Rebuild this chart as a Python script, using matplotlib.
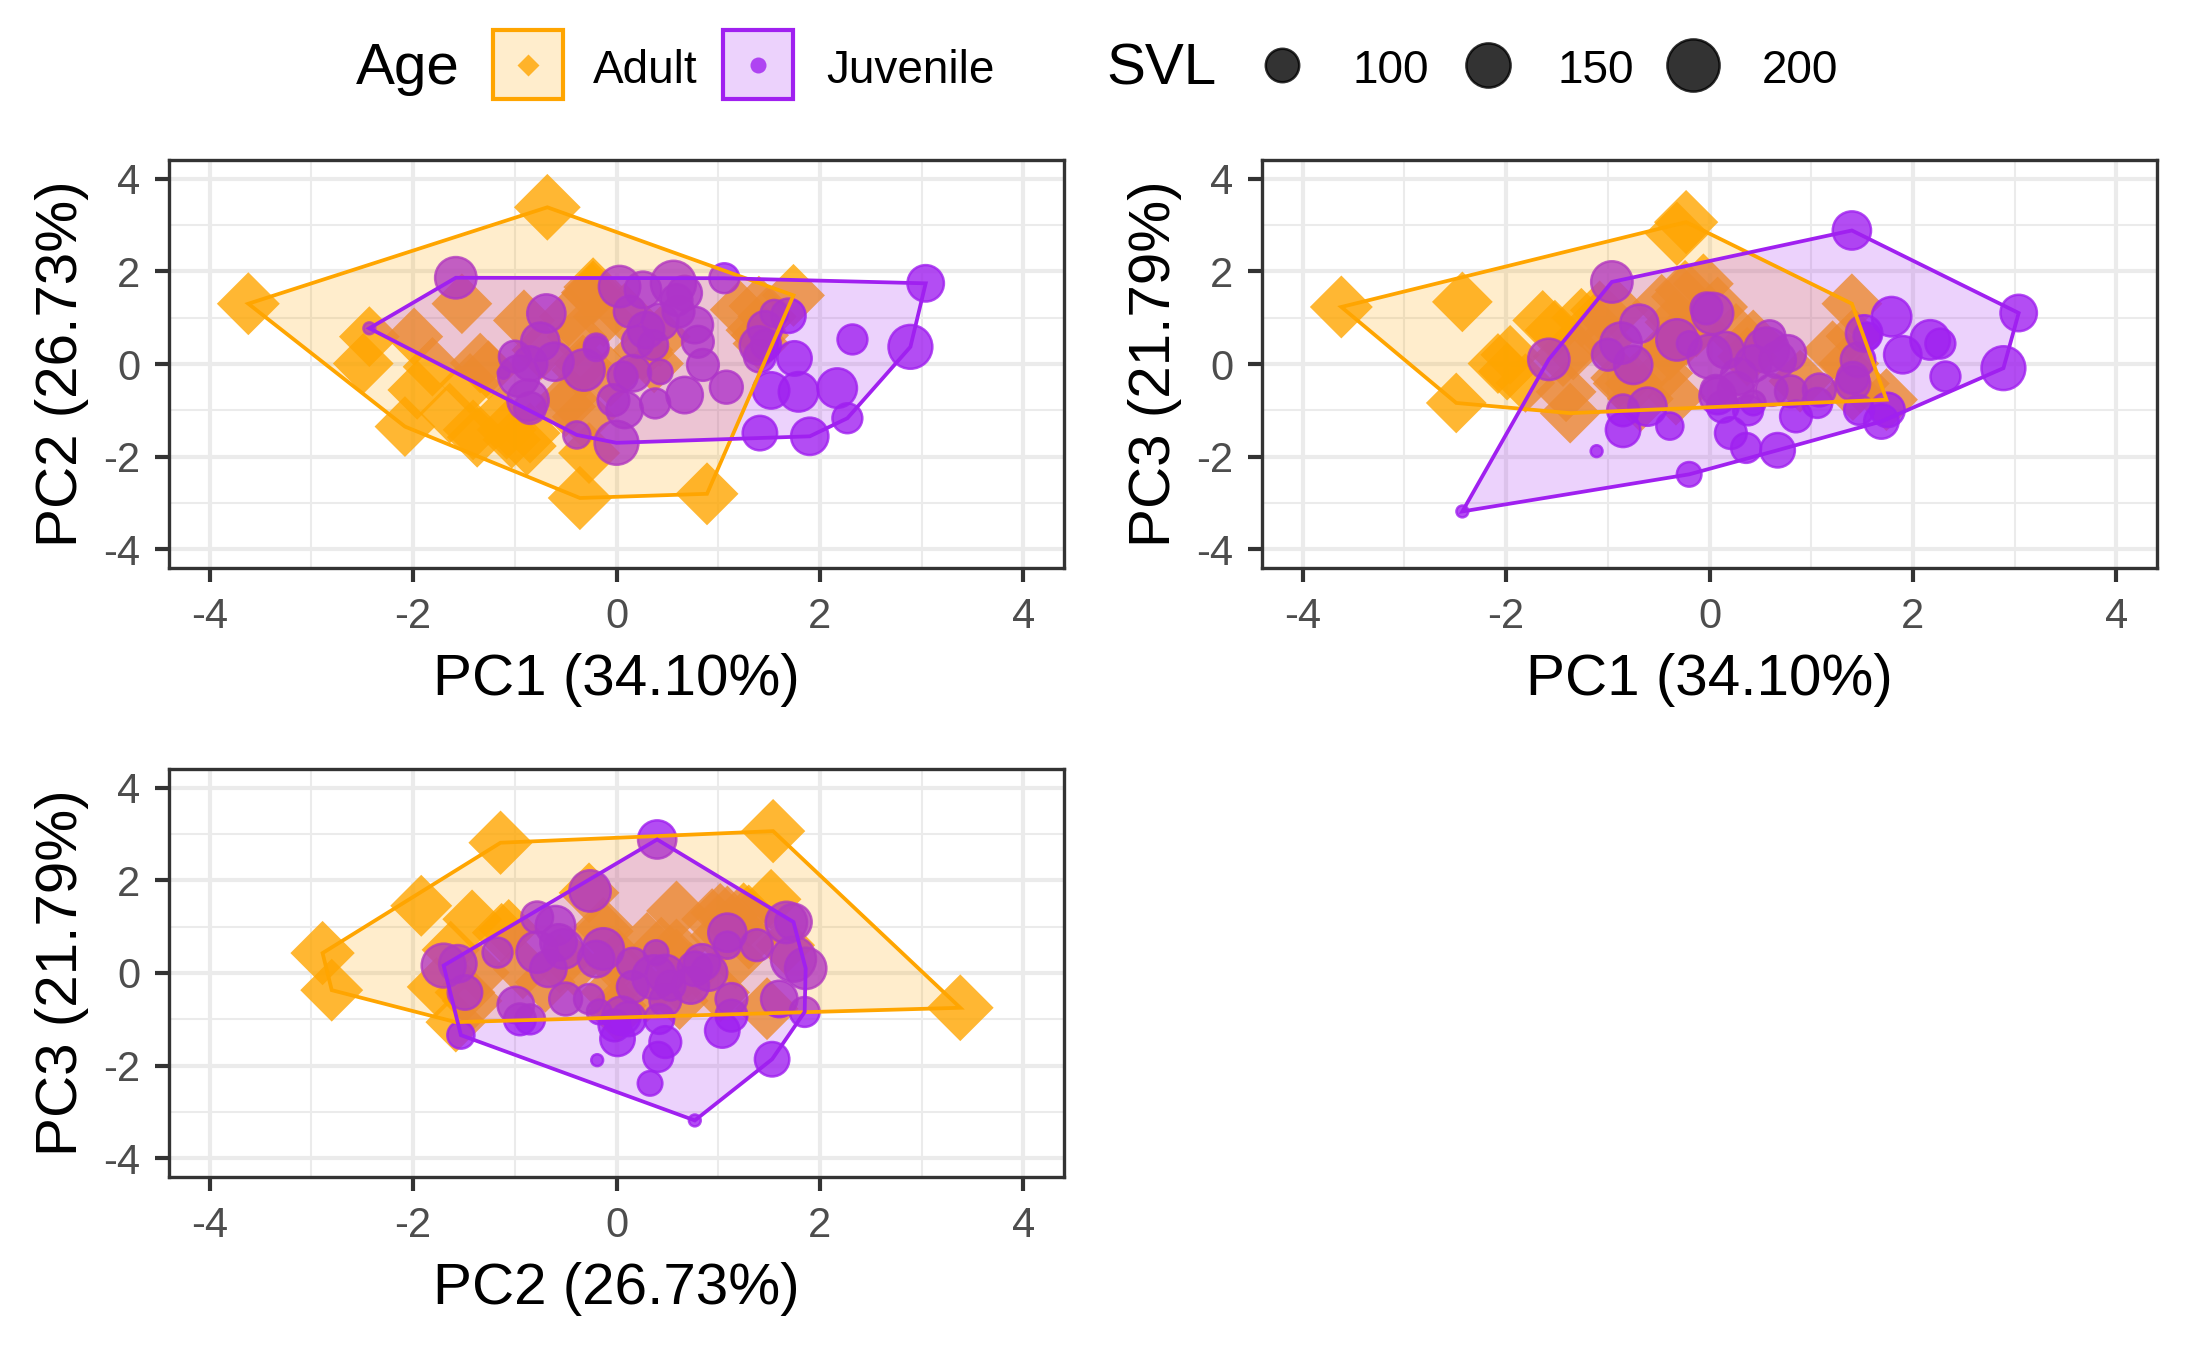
import numpy as np
import matplotlib
matplotlib.use("Agg")
from matplotlib import pyplot as plt
from matplotlib.patches import Rectangle, Polygon

plt.rcParams['font.family'] = ['Liberation Sans', 'DejaVu Sans']
plt.rcParams['axes.unicode_minus'] = False

# ---- data: PCA scores per individual ----
adult_pc1 = [-3.62, -0.68, 1.74, 0.89, -0.36, -2.08, -0.23, -0.32, 1.40, -1.37, -2.49,
             -2.43, -1.99, -1.52, -0.91, -0.24, -0.47, -0.39, -0.33, -0.74, -1.81, -1.44,
             -1.64, -1.41, -1.14, -0.85, -1.03, -1.26, -0.50, -0.27, -0.06, 0.43, 0.37,
             1.37, 1.48, 1.42, 0.08, 0.26, -1.96, -1.34, -1.08, -0.88, -0.34, -0.46,
             -0.13, -0.23, 1.21, 1.41]
adult_pc2 = [1.30, 3.38, 1.48, -2.80, -2.89, -1.35, 1.54, -1.14, 1.25, -1.58, 0.01,
             0.59, 0.59, 1.30, 0.94, 1.52, 1.02, 0.59, 0.01, 0.30, -0.06, -0.42,
             -1.06, -1.42, -1.13, -1.49, -1.63, -0.13, -0.92, -1.92, -0.27, 0.59, 0.01,
             0.73, 1.02, 0.44, 1.09, 0.30, -0.56, 0.02, -1.42, -1.77, -0.13, -0.70,
             1.02, 1.66, 1.17, 0.62]
adult_pc3 = [1.23, -0.75, -0.77, -0.37, 0.43, 0.01, 3.06, 2.81, 1.30, -1.06, -0.84,
             1.34, -0.16, 0.73, 1.16, 1.59, 1.30, 0.30, -0.70, -0.42, -0.41, 0.16,
             0.94, -0.60, 0.87, -0.42, 0.50, 1.00, 0.09, 1.45, 1.73, 0.52, 0.16,
             0.01, -0.42, 0.60, 1.23, 0.66, 0.20, 0.30, 1.16, -0.30, 0.90, -0.20,
             0.80, 0.60, 0.30, -0.60]
adult_svl = [159, 176, 159, 159, 165, 150, 165, 165, 150, 150, 150,
             150, 140, 150, 155, 150, 145, 150, 140, 145, 145, 150,
             150, 150, 145, 150, 140, 145, 150, 155, 150, 150, 145,
             150, 145, 135, 150, 150, 145, 150, 145, 145, 150, 150,
             150, 145, 145, 140]

juv_pc1 = [-2.43, 3.04, 2.89, 1.40, -1.58, 0.67, -0.39, 0.00, -0.20, -0.96, 1.69,
           2.27, 1.90, 2.32, 2.17, 1.79, 1.52, 1.75, 1.41, 1.08, 0.85, 1.46,
           1.55, 1.41, 1.06, -0.69, -0.75, -0.85, -1.11, -0.61, -0.87, -0.20, -0.32,
           0.03, 0.26, 0.56, 0.13, 0.43, 0.61, 0.77, 0.80, 0.21, 0.36, 0.67,
           0.43, 0.16, 0.06, 0.38, 0.08, -0.03, 0.29, 0.59, -0.85, -1.00, 1.47]
juv_pc2 = [0.77, 1.74, 0.37, 0.40, 1.86, 1.53, -1.53, -1.70, 0.33, -0.26, 1.04,
           -1.17, -1.56, 0.53, -0.52, -0.60, -0.57, 0.12, -1.49, -0.50, -0.02, 0.77,
           1.09, 0.16, 1.85, 1.09, 0.48, 0.01, -0.19, 0.05, -0.78, 0.39, -0.13,
           1.67, 1.60, 1.74, 1.13, 0.91, 1.13, 0.84, 0.48, 0.48, 0.41, -0.67,
           -0.17, -0.20, -0.27, -0.85, -0.99, -0.78, 0.73, 1.38, -0.95, 0.16, 0.42]
juv_pc3 = [-3.18, 1.10, -0.09, 2.88, 0.10, -1.86, -1.34, 0.16, -2.38, 1.77, -1.24,
           0.44, 0.20, -0.27, 0.52, 1.02, 0.66, -0.99, -0.42, -0.56, -1.13, 0.09,
           0.60, -0.30, -0.84, 0.87, -0.02, -1.42, -1.88, -0.92, 0.45, 0.44, 0.52,
           1.09, -0.56, 0.30, -0.92, 0.01, -0.56, 0.23, -0.59, -1.49, -1.81, 0.09,
           -0.84, 0.30, -0.56, -1.00, -0.69, 1.20, -0.27, 0.60, -1.00, 0.20, -0.99]
juv_svl = [60, 112, 148, 120, 135, 104, 80, 148, 74, 135, 104,
           88, 116, 88, 126, 126, 112, 104, 104, 98, 94, 104,
           80, 94, 88, 120, 120, 104, 60, 120, 135, 74, 135,
           135, 112, 155, 94, 112, 94, 112, 94, 94, 88, 112,
           74, 112, 88, 88, 112, 94, 112, 94, 94, 94, 88]

pc_labels = ['PC1 (34.10%)', 'PC2 (26.73%)', 'PC3 (21.79%)']
age_labels = ['Adult', 'Juvenile']
svl_breaks = [100, 150, 200]

ADULT = '#FFA500'
JUV = '#A020F0'
DIAMOND = [(0, 1), (1, 0), (0, -1), (-1, 0)]
PX = 72 / 300  # points per pixel


def svl_mm(svl):
    return 1 + 5 * np.sqrt(np.clip((np.asarray(svl, float) - 60) / 170, 0, 1))


def circle_pt(svl):
    # ggplot point diameter (pch 19) in points
    return 0.75 * (svl_mm(svl) * 72.27 / 25.4 + 0.945)


def hull(x, y):
    pts = sorted(set(zip(x, y)))

    def cross(o, a, b):
        return (a[0] - o[0]) * (b[1] - o[1]) - (a[1] - o[1]) * (b[0] - o[0])
    lower, upper = [], []
    for p in pts:
        while len(lower) >= 2 and cross(lower[-2], lower[-1], p) <= 0:
            lower.pop()
        lower.append(p)
    for p in reversed(pts):
        while len(upper) >= 2 and cross(upper[-2], upper[-1], p) <= 0:
            upper.pop()
        upper.append(p)
    return np.array(lower[:-1] + upper[:-1])


W, H = 2187, 1350
fig = plt.figure(figsize=(W / 300, H / 300), dpi=300)

boxes = [(169, 160), (1262, 160), (169, 769)]
pairs = [(0, 1), (0, 2), (1, 2)]
adult = [adult_pc1, adult_pc2, adult_pc3]
juv = [juv_pc1, juv_pc2, juv_pc3]

for (bx, by), (i, j) in zip(boxes, pairs):
    ax = fig.add_axes([bx / W, 1 - (by + 408) / H, 895 / W, 408 / H])
    ax.set_xlim(-4.4, 4.4)
    ax.set_ylim(-4.4, 4.4)
    ax.set_xticks([-4, -2, 0, 2, 4])
    ax.set_yticks([-4, -2, 0, 2, 4])
    ax.set_xticks([-3, -1, 1, 3], minor=True)
    ax.set_yticks([-3, -1, 1, 3], minor=True)
    ax.grid(True, which='major', color='#EBEBEB', lw=1.0)
    ax.grid(True, which='minor', color='#EBEBEB', lw=0.5)
    ax.set_axisbelow(True)
    ax.tick_params(which='major', direction='out', length=3.4, width=1.0,
                   color='#333333', labelcolor='#4D4D4D', labelsize=10, pad=3.5)
    ax.tick_params(which='minor', length=0)
    for s in ax.spines.values():
        s.set_color('#333333')
        s.set_linewidth(0.8)

    ax.scatter(adult[i], adult[j], s=(1.375 * circle_pt(adult_svl)) ** 2,
               marker=DIAMOND, color=ADULT, alpha=0.8, linewidths=0, zorder=2)
    ax.scatter(juv[i], juv[j], s=circle_pt(juv_svl) ** 2, marker='o',
               facecolor=JUV, edgecolor=JUV, alpha=0.8, linewidths=0.6, zorder=3)

    for xs, ys, col in [(adult[i], adult[j], ADULT), (juv[i], juv[j], JUV)]:
        hv = hull(xs, ys)
        ax.add_patch(Polygon(hv, closed=True, facecolor=col, alpha=0.2,
                             edgecolor='none', zorder=4))
        ax.add_patch(Polygon(hv, closed=True, facecolor='none', edgecolor=col,
                             lw=0.9, zorder=5))

    ax.set_xlabel(pc_labels[i], fontsize=14, labelpad=4)
    ax.set_ylabel(pc_labels[j], fontsize=14, labelpad=3.5)

# ---- legend drawn in pixel space ----
lax = fig.add_axes([0, 0, 1, 1])
lax.set_xlim(0, W)
lax.set_ylim(H, 0)
lax.axis('off')
lax.patch.set_alpha(0)

lax.text(356, 84.5, 'Age', fontsize=14, va='baseline', ha='left')
for x0, col, lab, tx, mk, sz in [(493, ADULT, age_labels[0], 593, DIAMOND, 22),
                                 (723, JUV, age_labels[1], 826, 'o', 16)]:
    lax.add_patch(Rectangle((x0, 30), 70, 69, facecolor=col, alpha=0.2, edgecolor='none'))
    lax.add_patch(Rectangle((x0, 30), 70, 69, facecolor='none', edgecolor=col, lw=1.0))
    lax.scatter([x0 + 35], [64.5], s=(sz * PX) ** 2, marker=mk, color=col, alpha=0.8,
                linewidths=0)
    lax.text(tx, 83, lab, fontsize=11, va='baseline', ha='left')

lax.text(1106, 84.5, 'SVL', fontsize=14, va='baseline', ha='left')
for k, (cx, b) in enumerate(zip([1282, 1488, 1693], svl_breaks)):
    lax.scatter([cx], [65], s=circle_pt(b) ** 2, marker='o', facecolor='black',
                edgecolor='black', alpha=0.8, linewidths=0.6)
    lax.text(cx + 70 - 0.5 * k, 83, str(b), fontsize=11, va='baseline', ha='left')

fig.savefig('out.png', dpi=300)
